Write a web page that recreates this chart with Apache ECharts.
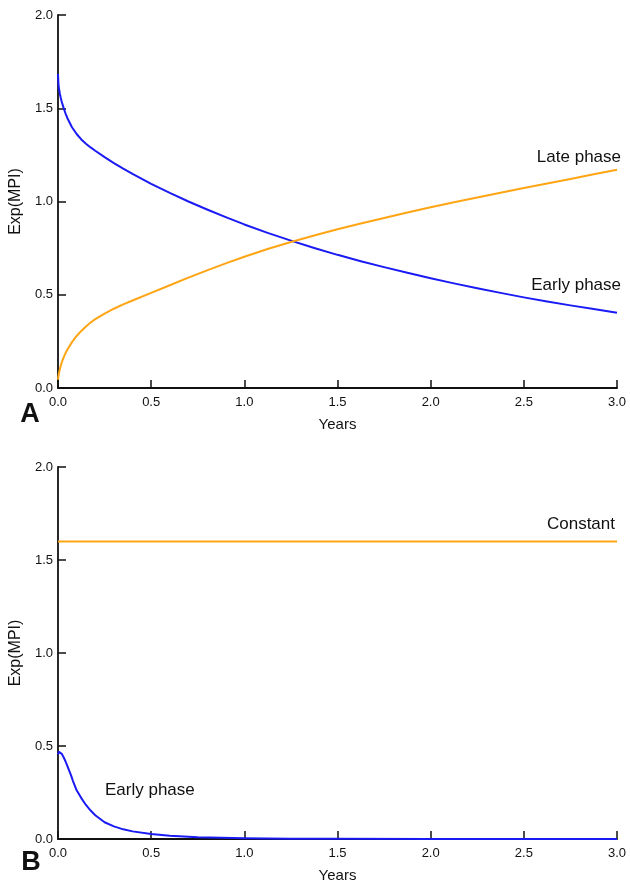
<!DOCTYPE html>
<html>
<head>
<meta charset="utf-8">
<script src="https://cdn.jsdelivr.net/npm/echarts@6/dist/echarts.min.js"></script>
<style>
  html, body { margin: 0; padding: 0; background: #fff; }
  #chart { width: 630px; height: 884px; }
</style>
</head>
<body>
<div id="chart"></div>
<script>
// Panel A: time-varying hazard curves
const yearsA = [0, 0.0025, 0.005, 0.01, 0.015, 0.02, 0.03, 0.04, 0.05, 0.075, 0.1, 0.125, 0.15, 0.175, 0.2, 0.25, 0.3, 0.35, 0.4, 0.5, 0.6, 0.7, 0.8, 0.9, 1.0, 1.125, 1.25, 1.375, 1.5, 1.625, 1.75, 1.875, 2.0, 2.125, 2.25, 2.375, 2.5, 2.625, 2.75, 2.875, 3.0];
const earlyA = [1.684, 1.63, 1.607, 1.578, 1.555, 1.535, 1.502, 1.473, 1.448, 1.398, 1.362, 1.333, 1.31, 1.29, 1.272, 1.238, 1.206, 1.176, 1.148, 1.095, 1.046, 1.0, 0.957, 0.916, 0.877, 0.832, 0.79, 0.751, 0.714, 0.68, 0.648, 0.618, 0.589, 0.561, 0.535, 0.51, 0.486, 0.464, 0.443, 0.423, 0.403];
const lateA = [0.045, 0.065, 0.079, 0.101, 0.12, 0.137, 0.163, 0.186, 0.205, 0.246, 0.279, 0.306, 0.33, 0.351, 0.369, 0.399, 0.425, 0.448, 0.469, 0.51, 0.551, 0.592, 0.631, 0.668, 0.704, 0.745, 0.783, 0.818, 0.851, 0.882, 0.912, 0.941, 0.969, 0.996, 1.022, 1.047, 1.072, 1.097, 1.121, 1.146, 1.17];

// Panel B: early-phase decay and constant hazard
const yearsB = [0, 0.005, 0.01, 0.015, 0.02, 0.03, 0.04, 0.05, 0.06, 0.07, 0.08, 0.09, 0.1, 0.125, 0.15, 0.175, 0.2, 0.25, 0.3, 0.35, 0.4, 0.5, 0.6, 0.75, 1.0, 1.25, 1.5, 2.0, 3.0];
const earlyB = [0.455, 0.468, 0.47, 0.466, 0.458, 0.44, 0.418, 0.393, 0.368, 0.342, 0.313, 0.287, 0.262, 0.22, 0.183, 0.153, 0.128, 0.09, 0.068, 0.052, 0.041, 0.027, 0.018, 0.01, 0.004, 0.002, 0.001, 0, 0];
const constYearsB = [0, 3.0];
const constB = [1.6, 1.6];

const xTicks = ['0.0', '0.5', '1.0', '1.5', '2.0', '2.5', '3.0'];
const yTicks = ['0.0', '0.5', '1.0', '1.5', '2.0'];

const BLUE = '#1a1af5';
const ORANGE = '#ffa514';
const FONT = 'Liberation Sans, Arial, Helvetica, sans-serif';

const zip = (xs, ys) => xs.map((x, i) => [x, ys[i]]);

function xAxis(idx) {
  return {
    type: 'value', gridIndex: idx, min: 0, max: 3, interval: 0.5,
    name: 'Years', nameLocation: 'middle', nameGap: 29,
    nameTextStyle: { fontFamily: FONT, fontSize: 15, color: '#111' },
    axisLine: { show: true, onZero: false, lineStyle: { color: '#111', width: 1.8 } },
    axisTick: { show: true, inside: true, length: 8, lineStyle: { color: '#111', width: 1.5 } },
    axisLabel: { fontFamily: FONT, fontSize: 13, color: '#111', margin: 8,
      formatter: v => xTicks[Math.round(v / 0.5)] },
    splitLine: { show: false }
  };
}
function yAxis(idx) {
  return {
    type: 'value', gridIndex: idx, min: 0, max: 2, interval: 0.5,
    name: 'Exp(MPI)', nameLocation: 'middle', nameGap: 29,
    nameTextStyle: { fontFamily: FONT, fontSize: 16, color: '#111' },
    axisLine: { show: true, onZero: false, lineStyle: { color: '#111', width: 1.8 } },
    axisTick: { show: true, inside: true, length: 8, lineStyle: { color: '#111', width: 1.5 } },
    axisLabel: { fontFamily: FONT, fontSize: 13, color: '#111', margin: 5,
      formatter: v => yTicks[Math.round(v / 0.5)] },
    splitLine: { show: false }
  };
}
function line(idx, data, color) {
  return {
    type: 'line', xAxisIndex: idx, yAxisIndex: idx, data: data,
    showSymbol: false, smooth: false,
    lineStyle: { color: color, width: 2, join: 'round' }, silent: true
  };
}
function label(text, x, y, align, size, bold) {
  return {
    type: 'text', x: x, y: y,
    style: { text: text, fill: '#111', font: (bold ? 'bold ' : '') + size + 'px ' + FONT,
      textAlign: align, textVerticalAlign: 'middle' }
  };
}

const chart = echarts.init(document.getElementById('chart'), null, { renderer: 'canvas' });
chart.setOption({
  backgroundColor: '#fff',
  animation: false,
  grid: [
    { left: 58, right: 13, top: 15, height: 373 },
    { left: 58, right: 13, top: 467, height: 372 }
  ],
  xAxis: [xAxis(0), xAxis(1)],
  yAxis: [yAxis(0), yAxis(1)],
  series: [
    line(0, zip(yearsA, earlyA), BLUE),
    line(0, zip(yearsA, lateA), ORANGE),
    line(1, zip(constYearsB, constB), ORANGE),
    line(1, zip(yearsB, earlyB), BLUE)
  ],
  graphic: [
    label('Late phase', 621, 157, 'right', 17, false),
    label('Early phase', 621, 285, 'right', 17, false),
    label('Constant', 615, 524, 'right', 17, false),
    label('Early phase', 105, 790, 'left', 17, false),
    label('A', 30, 415, 'center', 27, true),
    label('B', 31, 863, 'center', 27, true)
  ]
});
</script>
</body>
</html>
